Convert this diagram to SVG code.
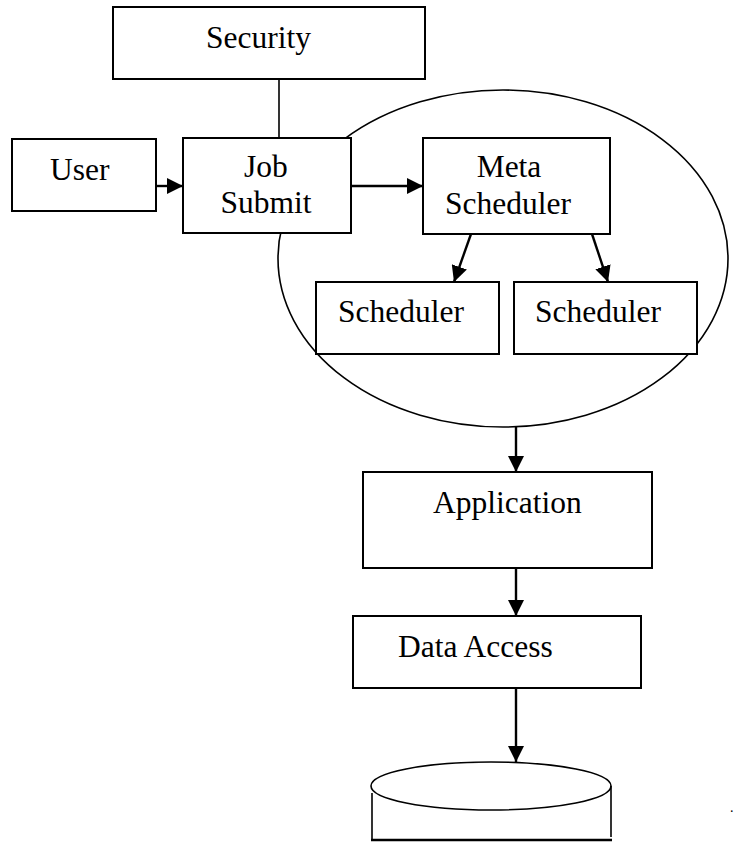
<svg xmlns="http://www.w3.org/2000/svg" width="736" height="842" viewBox="0 0 736 842">
<style>
.box{fill:#fff;stroke:#000;stroke-width:2}
.line{fill:none;stroke:#000;stroke-width:1.6}
.arr{fill:none;stroke:#000;stroke-width:2.4}
.t{font-family:"Liberation Serif","Times New Roman",serif;font-size:31.5px;fill:#000}
</style>
<defs>
<marker id="ah" markerUnits="userSpaceOnUse" markerWidth="16" markerHeight="16" refX="16" refY="8" orient="auto">
<path d="M0,0 L16,8 L0,16 z" fill="#000"/>
</marker>
</defs>
<g id="cluster">
<ellipse class="line" cx="503" cy="258.5" rx="225" ry="168.5"/>
</g>
<g id="connectors">
<line class="line" x1="279" y1="79" x2="279" y2="138"/>
<line class="arr" x1="156" y1="186" x2="183" y2="186" marker-end="url(#ah)"/>
<line class="arr" x1="351" y1="186" x2="423" y2="186" marker-end="url(#ah)"/>
<line class="arr" x1="471" y1="234" x2="454" y2="282" marker-end="url(#ah)"/>
<line class="arr" x1="592" y1="234" x2="608" y2="282" marker-end="url(#ah)"/>
<line class="arr" x1="516" y1="427" x2="516" y2="472" marker-end="url(#ah)"/>
<line class="arr" x1="516" y1="568" x2="516" y2="616" marker-end="url(#ah)"/>
<line class="arr" x1="516" y1="688" x2="516" y2="762" marker-end="url(#ah)"/>
</g>
<g id="security">
<rect class="box" x="113" y="7" width="312" height="72"/>
<text class="t" x="206" y="48">Security</text>
</g>
<g id="user">
<rect class="box" x="12" y="139" width="144" height="72"/>
<text class="t" x="50" y="180">User</text>
</g>
<g id="jobsubmit">
<rect class="box" x="183" y="138" width="168" height="95"/>
<text class="t" x="266" y="177" text-anchor="middle">Job</text>
<text class="t" x="266" y="213" text-anchor="middle">Submit</text>
</g>
<g id="metascheduler">
<rect class="box" x="423" y="138" width="187" height="96"/>
<text class="t" x="509" y="177" text-anchor="middle">Meta</text>
<text class="t" x="508" y="214" text-anchor="middle">Scheduler</text>
</g>
<g id="scheduler1">
<rect class="box" x="316" y="282" width="183" height="72"/>
<text class="t" x="338" y="322">Scheduler</text>
</g>
<g id="scheduler2">
<rect class="box" x="514" y="282" width="183" height="72"/>
<text class="t" x="535" y="322">Scheduler</text>
</g>
<g id="application">
<rect class="box" x="363" y="472" width="289" height="96"/>
<text class="t" x="433" y="513">Application</text>
</g>
<g id="dataaccess">
<rect class="box" x="353" y="616" width="288" height="72"/>
<text class="t" x="398" y="657">Data Access</text>
</g>
<g id="database">
<line class="line" x1="372" y1="793" x2="372" y2="841"/>
<line class="line" x1="611" y1="786" x2="611" y2="837"/>
<line class="arr" x1="371" y1="840" x2="612" y2="840"/>
<ellipse class="line" cx="491" cy="786" rx="120" ry="24"/>
</g>
<text class="t" x="730" y="812" style="font-size:14px">.</text>
</svg>
